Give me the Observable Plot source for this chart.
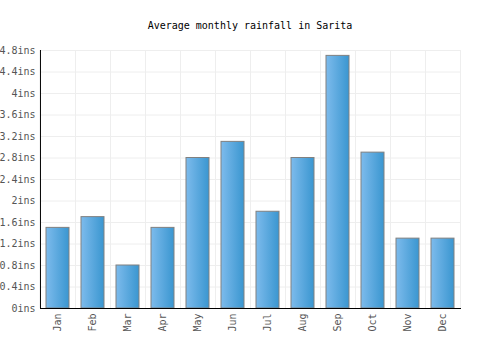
<!DOCTYPE html>
<html><head><meta charset="utf-8">
<script src="https://cdn.jsdelivr.net/npm/d3@7"></script>
<script src="https://cdn.jsdelivr.net/npm/@observablehq/plot@0.6"></script>
<style>
body{margin:0;background:#fff;}
#wrap{width:500px;height:350px;position:relative;font-family:"DejaVu Sans Mono",monospace;}
#title{height:40px;line-height:51px;text-align:center;font-size:10px;color:#000;}
</style></head><body>
<div id="wrap"><div id="title">Average monthly rainfall in Sarita</div><div id="chart"></div></div>
<script>
const months = ["Jan","Feb","Mar","Apr","May","Jun","Jul","Aug","Sep","Oct","Nov","Dec"];
const rainfall = [1.5,1.7,0.8,1.5,2.8,3.1,1.8,2.8,4.7,2.9,1.3,1.3];
const yTicks = [0,0.4,0.8,1.2,1.6,2,2.4,2.8,3.2,3.6,4,4.4,4.8];
const data = months.map((m,i)=>({month:m, value:rainfall[i]}));

const chart = Plot.plot({
  width:500, height:310,
  marginTop:10, marginBottom:42, marginLeft:40, marginRight:39,
  style:{fontFamily:"DejaVu Sans Mono, monospace", fontSize:"10px", color:"#555", background:"#fff"},
  x:{domain:months, paddingInner:0.33, paddingOuter:0.165, label:null, tickRotate:-90, tickSize:0, tickPadding:5},
  y:{domain:[0,4.8], ticks:yTicks, label:null, tickSize:0, tickPadding:5, tickFormat:d=>d3.format("~g")(d)+"ins"},
  marks:[
    Plot.gridY(yTicks,{stroke:"#eee", strokeOpacity:1}),
    Plot.ruleX(months.slice(1),{x:d=>d, stroke:"#eee", dx:-17.54}),
    Plot.ruleX(["Dec"],{stroke:"#eee", dx:17.54}),
    Plot.barY(data,{x:"month", y:"value", fill:"url(#barGrad)", stroke:"#808080", strokeWidth:1}),
    Plot.ruleY([0],{stroke:"#000"}),
    Plot.ruleX([months[0]],{stroke:"#000", dx:-17.54})
  ]
});
const defs = d3.select(chart).insert("defs",":first-child");
const g = defs.append("linearGradient").attr("id","barGrad").attr("x1","0").attr("x2","1").attr("y1","0").attr("y2","0");
g.append("stop").attr("offset","0").attr("stop-color","#7dbbec");
g.append("stop").attr("offset","1").attr("stop-color","#3a96d0");
document.getElementById("chart").appendChild(chart);
</script></body></html>
